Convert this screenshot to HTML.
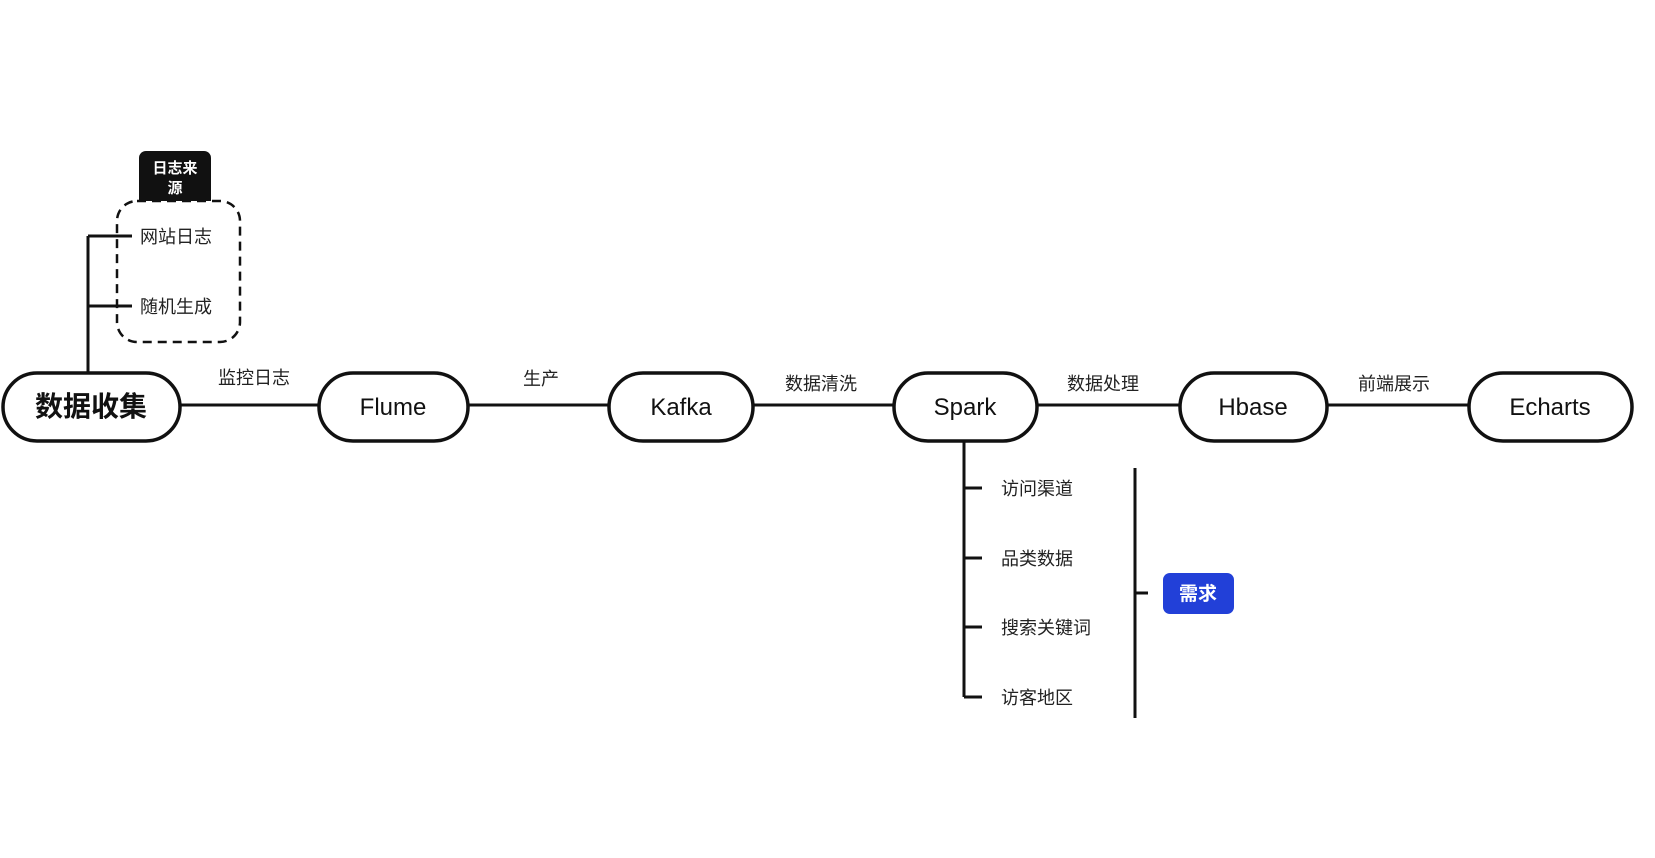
<!DOCTYPE html>
<html><head><meta charset="utf-8"><style>
body{margin:0;width:1655px;height:853px;background:#fff;overflow:hidden}
svg text{font-family:"Liberation Sans","Noto Sans CJK SC",sans-serif}
</style></head><body>
<svg width="1655" height="853" viewBox="0 0 1655 853" xmlns="http://www.w3.org/2000/svg">
<g stroke="#111" stroke-width="3" fill="none">
<line x1="178" y1="405" x2="1469" y2="405"/>
<line x1="88" y1="236" x2="88" y2="373"/>
<line x1="88" y1="236" x2="132" y2="236"/>
<line x1="88" y1="306" x2="132" y2="306"/>
<line x1="964" y1="441" x2="964" y2="697"/>
<line x1="964" y1="488" x2="982" y2="488"/>
<line x1="964" y1="558" x2="982" y2="558"/>
<line x1="964" y1="627" x2="982" y2="627"/>
<line x1="964" y1="697" x2="982" y2="697"/>
<line x1="1135" y1="468" x2="1135" y2="718"/>
<line x1="1135" y1="593" x2="1148" y2="593"/>
</g>
<rect x="117" y="201" width="123" height="141" rx="20" fill="none" stroke="#111" stroke-width="2.5" stroke-dasharray="9,6"/>
<path d="M139 201 V158 a7 7 0 0 1 7 -7 H204 a7 7 0 0 1 7 7 V201 Z" fill="#111"/>
<text x="175" y="173" font-size="15" font-weight="bold" fill="#fff" text-anchor="middle">日志来</text>
<text x="175" y="193" font-size="15" font-weight="bold" fill="#fff" text-anchor="middle">源</text>
<g font-size="18" fill="#222">
<text x="140" y="243">网站日志</text>
<text x="140" y="313">随机生成</text>
<text x="218" y="384">监控日志</text>
<text x="523" y="385">生产</text>
<text x="785" y="390">数据清洗</text>
<text x="1067" y="390">数据处理</text>
<text x="1358" y="390">前端展示</text>
<text x="1001" y="495">访问渠道</text>
<text x="1001" y="565">品类数据</text>
<text x="1001" y="634">搜索关键词</text>
<text x="1001" y="704">访客地区</text>
</g>
<g stroke="#111" stroke-width="3.5" fill="#fff">
<rect x="3" y="373" width="177" height="68" rx="34"/>
<rect x="319" y="373" width="149" height="68" rx="34"/>
<rect x="609" y="373" width="144" height="68" rx="34"/>
<rect x="894" y="373" width="143" height="68" rx="34"/>
<rect x="1180" y="373" width="147" height="68" rx="34"/>
<rect x="1469" y="373" width="163" height="68" rx="34"/>
</g>
<g font-size="24" fill="#111" text-anchor="middle">
<text x="91" y="416" font-size="28" font-weight="bold">数据收集</text>
<text x="393" y="415">Flume</text>
<text x="681" y="415">Kafka</text>
<text x="965" y="415">Spark</text>
<text x="1253" y="415">Hbase</text>
<text x="1550" y="415">Echarts</text>
</g>
<rect x="1163" y="573" width="71" height="41" rx="7" fill="#2240d8"/>
<text x="1198" y="600" font-size="19" font-weight="bold" fill="#fff" text-anchor="middle">需求</text>
</svg>
</body></html>
